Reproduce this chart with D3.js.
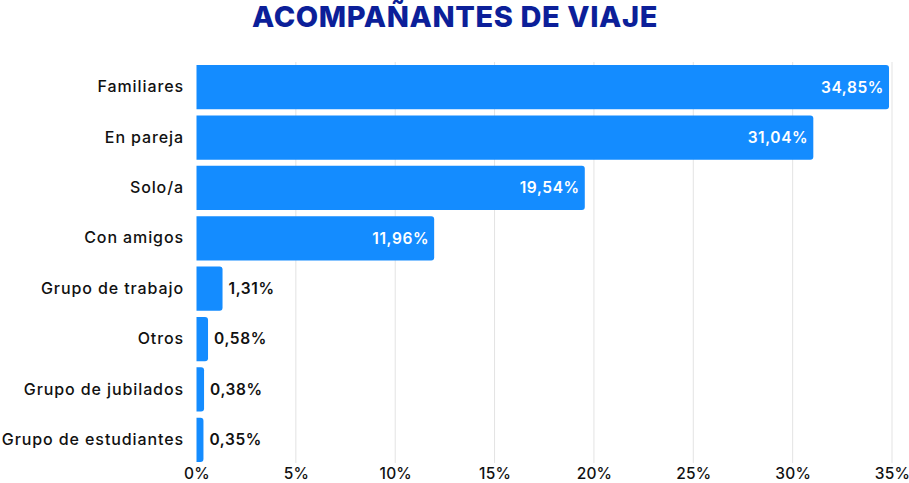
<!DOCTYPE html>
<html><head><meta charset="utf-8">
<script src="https://cdn.jsdelivr.net/npm/d3@7"></script>
<style>
body{margin:0;background:#fff;}
svg{display:block;font-family:Inter,"Noto Sans",sans-serif;}
</style></head>
<body><svg id="c" width="909" height="483"></svg>
<script>
const title = "ACOMPAÑANTES DE VIAJE";
const categories = ["Familiares","En pareja","Solo/a","Con amigos","Grupo de trabajo","Otros","Grupo de jubilados","Grupo de estudiantes"];
const values = [34.85,31.04,19.54,11.96,1.31,0.58,0.38,0.35];
const labels = ["34,85%","31,04%","19,54%","11,96%","1,31%","0,58%","0,38%","0,35%"];
const ticks = [0,5,10,15,20,25,30,35];

const svg = d3.select("#c");
const x = d3.scaleLinear().domain([0,35]).range([196.5,892]);
const y = d3.scaleBand().domain(categories).range([62,465]).paddingInner(0.12).paddingOuter(0.06);

svg.append("text").attr("x",455).attr("y",27).attr("text-anchor","middle")
  .attr("fill","#0c1f99").attr("font-size",29).attr("font-weight",800)
  .attr("letter-spacing",0.6)
  .text(title);

// gridlines
svg.append("g").selectAll("line").data(ticks.slice(1)).join("line")
  .attr("x1",d=>x(d)).attr("x2",d=>x(d)).attr("y1",62).attr("y2",463)
  .attr("stroke","#e3e3e3").attr("stroke-width",1);

// x axis
const xa = svg.append("g").attr("transform","translate(0,463)")
  .call(d3.axisBottom(x).tickValues(ticks).tickFormat(d=>d+"%").tickSize(0).tickPadding(5));
xa.select(".domain").remove();
xa.selectAll("text").attr("font-size",15.5).attr("font-weight",500).attr("fill","#111")
  .attr("letter-spacing",0.2).attr("font-family","Inter,'Noto Sans',sans-serif");

// y labels
const ya = svg.append("g").attr("transform","translate(184,0)")
  .call(d3.axisLeft(y).tickSize(0).tickPadding(0));
ya.select(".domain").remove();
ya.selectAll("text").attr("font-size",16).attr("font-weight",500).attr("fill","#111")
  .attr("letter-spacing",0.9).attr("font-family","Inter,'Noto Sans',sans-serif");

// bars with rounded right corners
function barPath(x0,x1,y0,h,r){
  const w = x1-x0; r = Math.min(r,w);
  return `M${x0},${y0}H${x1-r}Q${x1},${y0} ${x1},${y0+r}V${y0+h-r}Q${x1},${y0+h} ${x1-r},${y0+h}H${x0}Z`;
}
const data = categories.map((c,i)=>({c,v:values[i],l:labels[i]}));
svg.append("g").selectAll("path").data(data).join("path")
  .attr("d",d=>barPath(x(0),x(d.v),y(d.c),y.bandwidth(),3))
  .attr("fill","#148cff");

svg.append("g").selectAll("text").data(data).join("text")
  .attr("x",d=> d.v>5 ? x(d.v)-5 : x(d.v)+6)
  .attr("y",d=>y(d.c)+y.bandwidth()/2)
  .attr("dy","0.35em")
  .attr("text-anchor",d=> d.v>5 ? "end":"start")
  .attr("fill",d=> d.v>5 ? "#fff":"#111")
  .attr("font-size",15.5).attr("font-weight",600).attr("letter-spacing",0.6)
  .text(d=>d.l);
</script></body></html>
